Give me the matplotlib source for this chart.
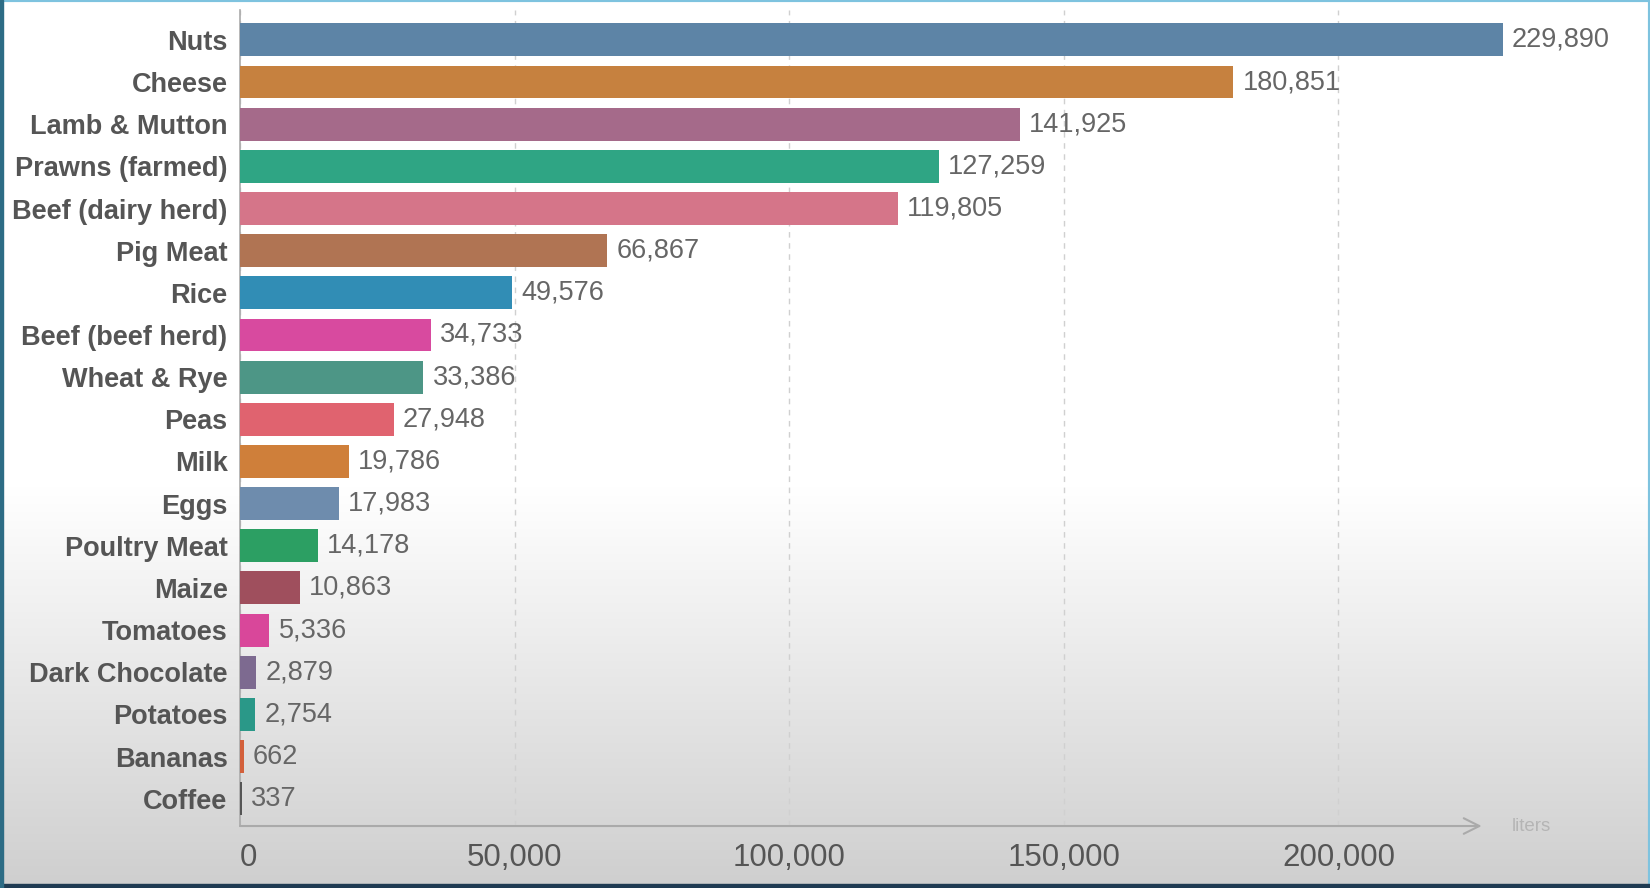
import matplotlib.pyplot as plt
import numpy as np
from matplotlib.patches import Rectangle

# water use per kg of food, liters
foods = ['Nuts', 'Cheese', 'Lamb & Mutton', 'Prawns (farmed)', 'Beef (dairy herd)',
         'Pig Meat', 'Rice', 'Beef (beef herd)', 'Wheat & Rye', 'Peas', 'Milk', 'Eggs',
         'Poultry Meat', 'Maize', 'Tomatoes', 'Dark Chocolate', 'Potatoes', 'Bananas', 'Coffee']
liters = [229890, 180851, 141925, 127259, 119805, 66867, 49576, 34733, 33386, 27948,
          19786, 17983, 14178, 10863, 5336, 2879, 2754, 662, 337]
colors = ['#5d84a6', '#c6813f', '#a56a8a', '#2fa584', '#d57589', '#b07453', '#318db5',
          '#d84a9f', '#4d9686', '#e0636f', '#cf7f3a', '#6e8cad', '#2c9f63', '#9f4f5d',
          '#d9479a', '#7d6a90', '#2a9888', '#d3603b', '#555555']
ticks = [0, 50000, 100000, 150000, 200000]

plt.rcParams['font.family'] = ['Liberation Sans', 'DejaVu Sans']

fig = plt.figure(figsize=(16.5, 8.88), dpi=100)

# background: white on top, fading to grey at the bottom
bg = fig.add_axes([0, 0, 1, 1], zorder=-10)
t = np.linspace(0, 1, 400)
shade = np.where(t < 0.55, 1.0, 1.0 - (t - 0.55) / 0.45 * 0.19)
bg.imshow(np.dstack([shade, shade, shade]).reshape(400, 1, 3), aspect='auto',
          extent=[0, 1, 0, 1], origin='upper')
bg.set_xlim(0, 1)
bg.set_ylim(0, 1)
bg.axis('off')

# frame of the screenshot
fig.patches.append(Rectangle((0, 0), 1, 1, transform=fig.transFigure, fill=False,
                             edgecolor='#7ec3df', lw=3, zorder=20))
fig.patches.append(Rectangle((0, 0), 1, 0.004, transform=fig.transFigure,
                             color='#1f3b52', zorder=21))
fig.patches.append(Rectangle((0, 0), 0.002, 1, transform=fig.transFigure,
                             color='#2d6c85', zorder=21))

ax = fig.add_axes([0.1455, 0.0698, 0.9177 - 0.1455, 0.919])
ax.patch.set_alpha(0)
y = np.arange(len(foods))
ax.barh(y, liters, height=0.78, color=colors, zorder=3)

for yi, v in zip(y, liters):
    ax.text(v + 1700, yi, f'{v:,}', va='center', ha='left', fontsize=19.5, color='#666666')

ax.set_xlim(0, 232000)
ax.set_ylim(18.648, -0.71)
ax.set_yticks(y)
ax.set_yticklabels(foods, fontsize=19.5, fontweight='bold', color='#555555')
ax.set_xticks(ticks)
ax.set_xticklabels([f'{v:,}' for v in ticks], fontsize=22.5, color='#555555')
ax.tick_params(axis='both', length=0)
ax.tick_params(axis='y', pad=9)
ax.tick_params(axis='x', pad=12)
for lab in ax.get_xticklabels()[:1]:
    lab.set_horizontalalignment('left')

ax.grid(axis='x', linestyle=(0, (4, 4)), color='#d0d0d0', lw=1, zorder=0)
for s in ['top', 'right', 'bottom']:
    ax.spines[s].set_visible(False)
ax.spines['left'].set_color('#aaaaaa')
ax.spines['left'].set_linewidth(1.2)

# axis line with an arrow head
ax.annotate('', xy=(226070, 0), xytext=(0, 0), xycoords=('data', 'axes fraction'),
            arrowprops=dict(arrowstyle='->', color='#aaaaaa', lw=1.5, mutation_scale=28,
                            shrinkA=0, shrinkB=0), annotation_clip=False)
ax.text(231600, 0, 'liters', transform=ax.get_xaxis_transform(), va='center', ha='left',
        fontsize=13.5, color='#b5b5b5')

plt.savefig('out.png', dpi=100)
